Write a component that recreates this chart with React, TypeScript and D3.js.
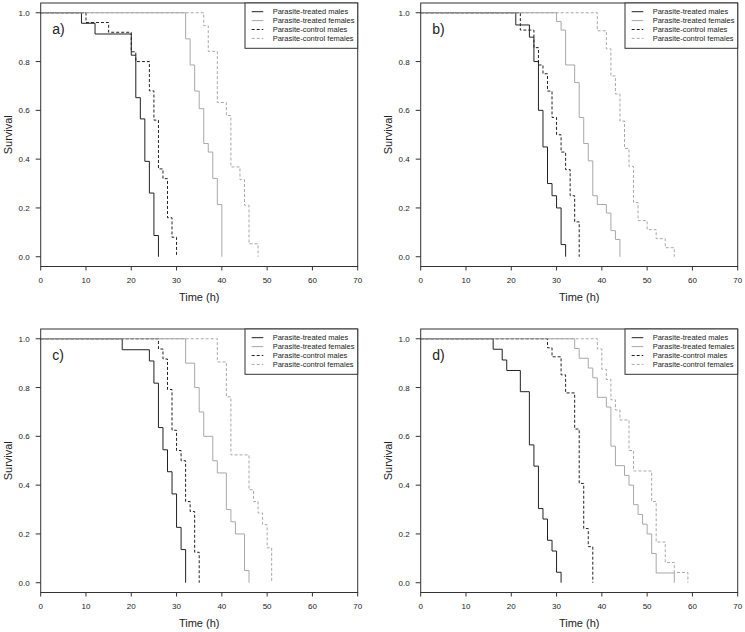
import React from "react";
import * as d3 from "d3";

// ---- data: [time (h), survival] at each step ----
const aTreatedMales = [[9,0.957],[12,0.913],[20,0.826],[21,0.652],[22,0.565],[23,0.391],[24,0.261],[25,0.087],[26,0]];
const aTreatedFemales = [[32,0.893],[33,0.786],[34,0.679],[35,0.607],[36,0.464],[37,0.429],[38,0.321],[39,0.214],[40,0]];
const aControlMales = [[10,0.96],[15,0.92],[20,0.84],[21,0.8],[24,0.68],[25,0.56],[26,0.36],[27,0.32],[28,0.16],[29,0.08],[30,0]];
const aControlFemales = [[36,0.947],[37,0.842],[39,0.632],[41,0.579],[42,0.368],[44,0.316],[45,0.211],[46,0.053],[48,0]];

const bTreatedMales = [[21,0.95],[24,0.9],[25,0.8],[26,0.6],[27,0.45],[28,0.3],[29,0.25],[30,0.2],[31,0.05],[32,0]];
const bTreatedFemales = [[30,0.964],[31,0.929],[32,0.786],[34,0.714],[35,0.571],[36,0.464],[37,0.393],[38,0.25],[39,0.214],[41,0.179],[42,0.107],[43,0.071],[44,0]];
const bControlMales = [[22,0.929],[25,0.857],[26,0.786],[27,0.75],[28,0.679],[29,0.571],[30,0.5],[31,0.429],[32,0.357],[33,0.25],[34,0.143],[35,0]];
const bControlFemales = [[39,0.926],[41,0.852],[42,0.741],[43,0.667],[44,0.556],[45,0.444],[46,0.37],[47,0.222],[48,0.148],[50,0.111],[52,0.074],[54,0.037],[56,0]];

const cTreatedMales = [[18,0.955],[24,0.909],[25,0.818],[26,0.636],[27,0.545],[28,0.455],[29,0.364],[30,0.227],[31,0.136],[32,0]];
const cTreatedFemales = [[32,0.9],[34,0.8],[35,0.7],[36,0.6],[38,0.5],[39,0.45],[41,0.3],[42,0.25],[43,0.2],[45,0.05],[46,0]];
const cControlMales = [[26,0.958],[27,0.917],[28,0.792],[29,0.625],[30,0.542],[31,0.5],[32,0.333],[33,0.292],[34,0.125],[35,0]];
const cControlFemales = [[39,0.905],[41,0.762],[42,0.524],[46,0.381],[47,0.333],[48,0.286],[49,0.238],[50,0.143],[51,0]];

const dTreatedMales = [[16,0.957],[18,0.913],[19,0.87],[22,0.783],[24,0.565],[25,0.478],[26,0.304],[27,0.261],[28,0.174],[29,0.13],[30,0.043],[31,0]];
const dTreatedFemales = [[34,0.96],[35,0.92],[37,0.88],[38,0.84],[39,0.76],[41,0.72],[42,0.56],[43,0.48],[45,0.44],[46,0.4],[47,0.32],[48,0.28],[49,0.24],[50,0.2],[51,0.12],[52,0.04],[56,0]];
const dControlMales = [[28,0.963],[29,0.926],[31,0.852],[32,0.778],[34,0.63],[35,0.407],[36,0.222],[37,0.148],[38,0]];
const dControlFemales = [[39,0.958],[40,0.875],[41,0.833],[42,0.75],[43,0.708],[44,0.667],[46,0.542],[47,0.458],[51,0.333],[52,0.167],[54,0.083],[56,0.042],[59,0]];

const panelLabels = ["a)", "b)", "c)", "d)"];
const seriesNames = ["Parasite-treated males", "Parasite-treated females", "Parasite-control males", "Parasite-control females"];
const xTicks = [0, 10, 20, 30, 40, 50, 60, 70];
const yTicks = [0, 0.2, 0.4, 0.6, 0.8, 1.0];
const panelData = [
  [aTreatedMales, aTreatedFemales, aControlMales, aControlFemales],
  [bTreatedMales, bTreatedFemales, bControlMales, bControlFemales],
  [cTreatedMales, cTreatedFemales, cControlMales, cControlFemales],
  [dTreatedMales, dTreatedFemales, dControlMales, dControlFemales],
];

// ---- styling ----
const DARK = "#222";
const GRAY = "#a8a8a8";
const seriesStyle = [
  { stroke: DARK, dash: null },
  { stroke: GRAY, dash: null },
  { stroke: DARK, dash: "3,2" },
  { stroke: GRAY, dash: "3,2" },
];
const FONT = "'Liberation Sans', Arial, Helvetica, sans-serif";

const W = 745, H = 632;
const plotW = 317, plotH = 263.5;
const origins = [
  [40.7, 3],
  [420.7, 3],
  [40.7, 329],
  [420.7, 329],
];

function Panel({ idx }) {
  const [ox, oy] = origins[idx];
  const x = d3.scaleLinear().domain([0, 70]).range([ox, ox + plotW]);
  const y = d3.scaleLinear().domain([-0.04, 1.04]).range([oy + plotH, oy]);
  const line = d3.line().x((d) => x(d[0])).y((d) => y(d[1])).curve(d3.curveStepAfter);
  const series = panelData[idx];
  const lx = ox + plotW - 112.7;
  const ly = oy;
  return (
    <g>
      {/* curves */}
      {series.map((s, i) => (
        <path
          key={i}
          d={line([[0, 1], ...s])}
          fill="none"
          stroke={seriesStyle[i].stroke}
          strokeWidth={1}
          strokeDasharray={seriesStyle[i].dash || undefined}
        />
      ))}
      {/* box */}
      <rect x={ox} y={oy} width={plotW} height={plotH} fill="none" stroke="#333" strokeWidth={1} />
      {/* x axis */}
      {xTicks.map((t) => (
        <g key={"x" + t}>
          <line x1={x(t)} x2={x(t)} y1={oy + plotH} y2={oy + plotH + 4} stroke="#333" />
          <text x={x(t)} y={oy + plotH + 16} fontSize={8} textAnchor="middle" fill={DARK} fontFamily={FONT}>
            {t}
          </text>
        </g>
      ))}
      {/* y axis */}
      {yTicks.map((t) => (
        <g key={"y" + t}>
          <line x1={ox - 5} x2={ox} y1={y(t)} y2={y(t)} stroke="#333" />
          <text x={ox - 11} y={y(t) + 3} fontSize={8} textAnchor="end" fill={DARK} fontFamily={FONT}>
            {t.toFixed(1)}
          </text>
        </g>
      ))}
      <text x={x(35)} y={oy + plotH + 34} fontSize={11} textAnchor="middle" fill={DARK} fontFamily={FONT}>
        Time (h)
      </text>
      <text
        transform={`translate(${ox - 29},${(y(0) + y(1)) / 2}) rotate(-90)`}
        fontSize={11}
        textAnchor="middle"
        fill={DARK}
        fontFamily={FONT}
      >
        Survival
      </text>
      <text x={ox + 11.5} y={oy + 31} fontSize={14} fill={DARK} fontFamily={FONT}>
        {panelLabels[idx]}
      </text>
      {/* legend */}
      <rect x={lx} y={ly} width={112.7} height={45.3} fill="white" stroke="#333" strokeWidth={1} />
      {seriesNames.map((n, i) => (
        <g key={n}>
          <line
            x1={lx + 6.7}
            x2={lx + 18.3}
            y1={ly + 8.7 + i * 8.9}
            y2={ly + 8.7 + i * 8.9}
            stroke={seriesStyle[i].stroke}
            strokeDasharray={seriesStyle[i].dash || undefined}
          />
          <text x={lx + 27.7} y={ly + 8.7 + i * 8.9 + 2.7} fontSize={7.5} fill={DARK} fontFamily={FONT}>
            {n}
          </text>
        </g>
      ))}
    </g>
  );
}

export default function App() {
  return (
    <svg
      width={W}
      height={H}
      viewBox={`0 0 ${W} ${H}`}
      style={{ position: "absolute", left: 0, top: 0, background: "white" }}
    >
      <rect x={0} y={0} width={W} height={H} fill="white" />
      {[0, 1, 2, 3].map((i) => (
        <Panel key={i} idx={i} />
      ))}
    </svg>
  );
}
